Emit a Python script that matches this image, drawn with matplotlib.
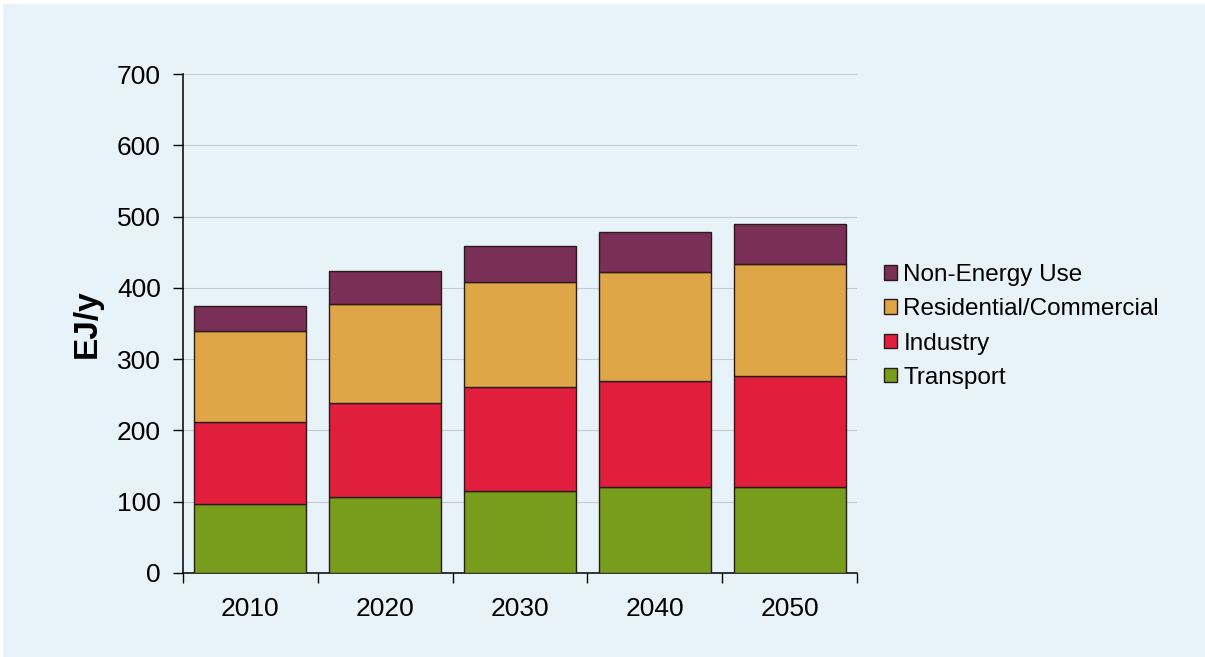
import numpy as np
import matplotlib.pyplot as plt
from matplotlib.patches import Rectangle

plt.rcParams['font.family'] = ['Liberation Sans', 'DejaVu Sans']

years = ['2010', '2020', '2030', '2040', '2050']
transport = [97, 106, 115, 120, 120]
industry = [115, 133, 146, 150, 157]
residential = [127, 139, 147, 152, 157]
non_energy = [35, 45, 51, 56, 56]

series = [
    ('Transport', transport, '#789d1c'),
    ('Industry', industry, '#e11f3d'),
    ('Residential/Commercial', residential, '#dea646'),
    ('Non-Energy Use', non_energy, '#7a2f57'),
]

bg = '#e8f3f9'

fig = plt.figure(figsize=(12.05, 6.57), dpi=100, facecolor='white')
# panel background with a thin white margin on top/left
fig.patches.append(Rectangle((3 / 1205, 0), 1, 1 - 4 / 657, transform=fig.transFigure,
                             facecolor=bg, edgecolor='none', zorder=-10))

ax = fig.add_axes([183 / 1205, 1 - 573 / 657, (857 - 183) / 1205, (573 - 74) / 657])
ax.set_facecolor(bg)

x = np.arange(len(years))
bottom = np.zeros(len(years))
handles = []
for name, vals, color in series:
    b = ax.bar(x, vals, width=0.83, bottom=bottom, color=color, edgecolor='#2a1a1a',
               linewidth=1.0, label=name, zorder=3)
    handles.append(b)
    bottom += np.array(vals)

ax.set_xlim(-0.5, len(years) - 0.5)
ax.set_ylim(0, 700)
ax.set_yticks(range(0, 701, 100))
ax.set_xticks(x)
ax.set_xticklabels(years)
# tick marks sit on the category boundaries
ax.set_xticks(np.arange(-0.5, len(years), 1), minor=True)
ax.tick_params(axis='x', which='major', length=0, labelsize=19, pad=17)
ax.tick_params(axis='x', which='minor', length=7, width=1, direction='out')
ax.tick_params(axis='y', length=7, width=1, labelsize=19, pad=9)

ax.yaxis.grid(True, color='#c4cbcf', linewidth=0.8, zorder=0)
ax.set_axisbelow(True)
for side in ['top', 'right']:
    ax.spines[side].set_visible(False)
ax.spines['left'].set_linewidth(1.1)
ax.spines['bottom'].set_linewidth(1.1)

ax.set_ylabel('EJ/y', fontsize=24, fontweight='bold', labelpad=10)

leg = ax.legend(handles[::-1], [s[0] for s in series[::-1]], loc='center left',
                bbox_to_anchor=(1.022, 0.494), frameon=False, fontsize=17.5,
                handlelength=0.55, handleheight=0.55, handletextpad=0.25,
                labelspacing=0.5, borderpad=0)

fig.savefig('out.png', dpi=100, facecolor=fig.get_facecolor())
